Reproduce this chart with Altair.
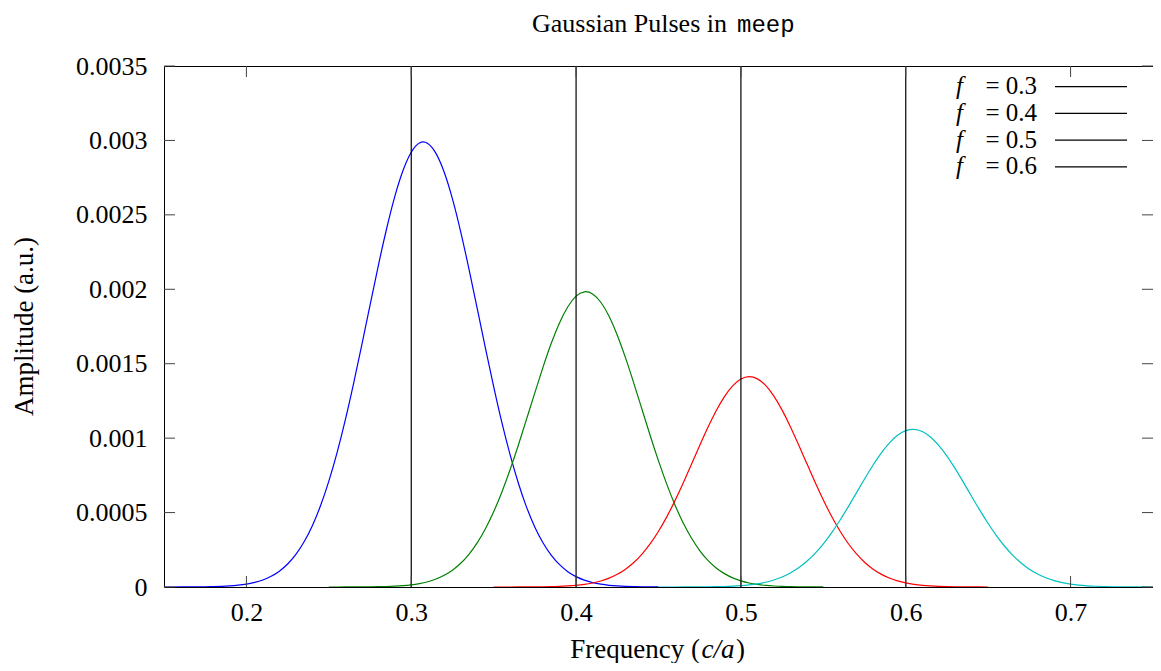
import altair as alt
import pandas as pd

# ---------------- data ----------------
FREQ = [0.150, 0.155, 0.160, 0.165, 0.170, 0.175, 0.180, 0.185, 0.190, 0.195,
        0.200, 0.205, 0.210, 0.215, 0.220, 0.225, 0.230, 0.235, 0.240, 0.245,
        0.250, 0.255, 0.260, 0.265, 0.270, 0.275, 0.280, 0.285, 0.290, 0.295,
        0.300, 0.305, 0.310, 0.315, 0.320, 0.325, 0.330, 0.335, 0.340, 0.345,
        0.350, 0.355, 0.360, 0.365, 0.370, 0.375, 0.380, 0.385, 0.390, 0.395,
        0.400, 0.405, 0.410, 0.415, 0.420, 0.425, 0.430, 0.435, 0.440, 0.445,
        0.450, 0.455, 0.460, 0.465, 0.470, 0.475, 0.480, 0.485, 0.490, 0.495,
        0.500, 0.505, 0.510, 0.515, 0.520, 0.525, 0.530, 0.535, 0.540, 0.545,
        0.550, 0.555, 0.560, 0.565, 0.570, 0.575, 0.580, 0.585, 0.590, 0.595,
        0.600, 0.605, 0.610, 0.615, 0.620, 0.625, 0.630, 0.635, 0.640, 0.645,
        0.650, 0.655, 0.660, 0.665, 0.670, 0.675, 0.680, 0.685, 0.690, 0.695,
        0.700, 0.705, 0.710, 0.715, 0.720, 0.725, 0.730, 0.735, 0.740, 0.745,
        0.750]

AMP_03 = [6e-8, 1.2e-7, 2.2e-7, 4.3e-7, 7.8e-7, 1.4e-6, 2.5e-6, 4.3e-6, 7.3e-6, 1.2e-5,
          1.9e-5, 3.07e-5, 4.74e-5, 7.19e-5, 1.065e-4, 1.543e-4, 2.188e-4, 3.035e-4, 4.12e-4, 5.47e-4,
          7.11e-4, 9.03e-4, 1.123e-3, 1.367e-3, 1.627e-3, 1.894e-3, 2.158e-3, 2.405e-3, 2.623e-3, 2.798e-3,
          2.921e-3, 2.983e-3, 2.980e-3, 2.913e-3, 2.786e-3, 2.607e-3, 2.386e-3, 2.137e-3, 1.872e-3, 1.605e-3,
          1.346e-3, 1.104e-3, 8.87e-4, 6.97e-4, 5.35e-4, 4.02e-4, 2.96e-4, 2.13e-4, 1.50e-4, 1.03e-4,
          6.95e-5, 4.59e-5, 2.96e-5, 1.87e-5, 1.15e-5, 6.9e-6, 4.1e-6, 2.4e-6, 1.3e-6, 7e-7,
          4e-7]
AMP_04 = [4.8e-8, 9e-8, 1.8e-7, 3.4e-7, 6.1e-7, 1.1e-6, 1.9e-6, 3.3e-6, 5.6e-6, 9.1e-6,
          1.46e-5, 2.30e-5, 3.54e-5, 5.34e-5, 7.86e-5, 1.131e-4, 1.594e-4, 2.199e-4, 2.966e-4, 3.915e-4,
          5.054e-4, 6.385e-4, 7.89e-4, 9.54e-4, 1.129e-3, 1.306e-3, 1.479e-3, 1.639e-3, 1.776e-3, 1.883e-3,
          1.954e-3, 1.983e-3, 1.969e-3, 1.913e-3, 1.819e-3, 1.691e-3, 1.539e-3, 1.370e-3, 1.193e-3, 1.016e-3,
          8.47e-4, 6.91e-4, 5.51e-4, 4.30e-4, 3.29e-4, 2.45e-4, 1.79e-4, 1.28e-4, 8.98e-5, 6.14e-5,
          4.12e-5, 2.70e-5, 1.73e-5, 1.08e-5, 6.6e-6, 4.0e-6, 2.3e-6, 1.3e-6, 7.6e-7, 4.2e-7,
          2.2e-7]
AMP_05 = [3.8e-8, 7.4e-8, 1.4e-7, 2.6e-7, 4.8e-7, 8.6e-7, 1.5e-6, 2.6e-6, 4.3e-6, 7.0e-6,
          1.12e-5, 1.76e-5, 2.70e-5, 4.05e-5, 5.94e-5, 8.52e-5, 1.198e-4, 1.645e-4, 2.211e-4, 2.908e-4,
          3.742e-4, 4.711e-4, 5.802e-4, 6.990e-4, 8.241e-4, 9.505e-4, 1.0725e-3, 1.184e-3, 1.279e-3, 1.351e-3,
          1.397e-3, 1.413e-3, 1.398e-3, 1.354e-3, 1.282e-3, 1.188e-3, 1.077e-3, 9.55e-4, 8.29e-4, 7.04e-4,
          5.85e-4, 4.75e-4, 3.78e-4, 2.94e-4, 2.237e-4, 1.666e-4, 1.214e-4, 8.65e-5, 6.03e-5, 4.11e-5,
          2.74e-5, 1.79e-5, 1.14e-5, 7.2e-6, 4.4e-6, 2.6e-6, 1.5e-6, 8.8e-7, 4.9e-7, 2.7e-7,
          1.4e-7]
AMP_06 = [3.1e-8, 6.0e-8, 1.2e-7, 2.1e-7, 3.9e-7, 7.0e-7, 1.2e-6, 2.1e-6, 3.4e-6, 5.6e-6,
          9.0e-6, 1.40e-5, 2.14e-5, 3.20e-5, 4.69e-5, 6.71e-5, 9.39e-5, 1.287e-4, 1.725e-4, 2.261e-4,
          2.901e-4, 3.640e-4, 4.469e-4, 5.369e-4, 6.31e-4, 7.254e-4, 8.162e-4, 8.981e-4, 9.671e-4, 1.0189e-3,
          1.0501e-3, 1.0588e-3, 1.0446e-3, 1.0082e-3, 9.52e-4, 8.795e-4, 7.95e-4, 7.03e-4, 6.082e-4, 5.148e-4,
          4.263e-4, 3.453e-4, 2.738e-4, 2.123e-4, 1.611e-4, 1.196e-4, 8.68e-5, 6.17e-5, 4.29e-5, 2.92e-5,
          1.94e-5, 1.26e-5, 8.0e-6, 5.0e-6, 3.1e-6, 1.8e-6, 1.06e-6, 6.1e-7, 3.4e-7, 1.9e-7,
          9.8e-8]

SERIES = ["0.3", "0.4", "0.5", "0.6"]
SERIES_AMPS = [AMP_03, AMP_04, AMP_05, AMP_06]
SERIES_START = [0, 20, 40, 60]          # index into FREQ where each pulse begins
COLORS = ["#0000ff", "#008000", "#ff0000", "#00c0c0"]
CENTER_LINES = [0.3, 0.4, 0.5, 0.6]
LEGEND_LABELS = ["= 0.3", "= 0.4", "= 0.5", "= 0.6"]
XTICKS = [0.2, 0.3, 0.4, 0.5, 0.6, 0.7]
YTICKS = [0.0, 0.0005, 0.001, 0.0015, 0.002, 0.0025, 0.003, 0.0035]

# ---------------- layout ----------------
W, H = 989, 521
PAD_L, PAD_T = 156, 58
OX = 8 + PAD_L          # page x of plot origin
OY = 8 + PAD_T          # page y of plot origin
TICK = 11
SERIF = "Liberation Serif"
MONO = "Liberation Mono"
NUM_SIZE = 26
TXT_SIZE = 27
LEG_SIZE = 25

rows = []
for name, amps, s in zip(SERIES, SERIES_AMPS, SERIES_START):
    for k, a in enumerate(amps):
        rows.append({"freq": FREQ[s + k], "amp": a, "series": name})
df = pd.DataFrame(rows)

xscale = alt.Scale(domain=[0.15, 0.75], nice=False, zero=False)
yscale = alt.Scale(domain=[0, 0.0035], nice=False, zero=False)
XAX = alt.Axis(values=XTICKS, format=".1f", ticks=False, domain=False, grid=False,
               labelPadding=33, labelBaseline="alphabetic", labelFlush=False,
               labelOverlap=False, title="")
YAX = alt.Axis(values=YTICKS, format=".4~f", ticks=False, domain=False, grid=False,
               labelPadding=17, labelFlush=False, labelOverlap=False, title="")

curves = alt.Chart(df).mark_line(strokeWidth=1.2, interpolate="natural", clip=True).encode(
    x=alt.X("freq:Q", scale=xscale, axis=XAX, title=""),
    y=alt.Y("amp:Q", scale=yscale, axis=YAX, title=""),
    color=alt.Color("series:N", scale=alt.Scale(domain=SERIES, range=COLORS), legend=None),
    detail="series:N",
)

vlines = alt.Chart(pd.DataFrame({"freq": CENTER_LINES})).mark_rule(color="black", strokeWidth=1.2).encode(
    x=alt.X("freq:Q", scale=xscale, axis=XAX, title="")
)

xt = pd.DataFrame({"freq": XTICKS})
yt = pd.DataFrame({"amp": YTICKS})
tick_col = "#444444"
xticks_bottom = alt.Chart(xt).mark_rule(color=tick_col, strokeWidth=1).encode(
    x=alt.X("freq:Q", scale=xscale, axis=XAX, title=""), y=alt.value(H - TICK), y2=alt.value(H))
xticks_top = alt.Chart(xt).mark_rule(color=tick_col, strokeWidth=1).encode(
    x=alt.X("freq:Q", scale=xscale, axis=XAX, title=""), y=alt.value(0), y2=alt.value(TICK))
yticks_left = alt.Chart(yt).mark_rule(color=tick_col, strokeWidth=1).encode(
    y=alt.Y("amp:Q", scale=yscale, axis=YAX, title=""), x=alt.value(0), x2=alt.value(TICK))
yticks_right = alt.Chart(yt).mark_rule(color=tick_col, strokeWidth=1).encode(
    y=alt.Y("amp:Q", scale=yscale, axis=YAX, title=""), x=alt.value(W - TICK), x2=alt.value(W))


def label(text, px, py, align="left", font=SERIF, size=TXT_SIZE, style="normal", angle=0):
    """px, py: page position of the text anchor (converted to plot coordinates)."""
    kw = dict(align=align, baseline="alphabetic", font=font, fontSize=size,
              fontStyle=style, color="black")
    if angle:
        kw["angle"] = angle
    return alt.Chart(pd.DataFrame({"t": [text]})).mark_text(**kw).encode(
        text="t:N", x=alt.value(px - OX), y=alt.value(py - OY))


texts = [
    label("Gaussian Pulses in", 727, 31.5, align="right", size=26),
    label("meep", 737, 31.5, align="left", font=MONO, size=24),
    label("Frequency (", 700, 658, align="right"),
    label("c/a", 718, 658, align="center", style="italic"),
    label(")", 736, 658, align="left"),
    label("Amplitude (a.u.)", 33, OY + H / 2, align="center", angle=270),
]

legend_layers = []
for i, lab in enumerate(LEGEND_LABELS):
    yline = 86.7 + i * 26.7
    legend_layers.append(label("f", 963, yline + 7.5, align="right", style="italic", size=LEG_SIZE))
    legend_layers.append(label(lab, 1037, yline + 7.5, align="right", size=LEG_SIZE))
    legend_layers.append(
        alt.Chart(pd.DataFrame({"t": [lab]})).mark_rule(color="black", strokeWidth=1.2).encode(
            x=alt.value(1055 - OX), x2=alt.value(1127 - OX), y=alt.value(yline - OY)))

chart = alt.layer(
    curves, vlines, xticks_bottom, xticks_top, yticks_left, yticks_right,
    *texts, *legend_layers
).properties(
    width=W, height=H,
    padding={"left": PAD_L, "top": PAD_T, "right": 0, "bottom": 76},
    autosize=alt.AutoSizeParams(type="none"),
).configure_view(
    stroke="black", strokeWidth=1
).configure_axis(
    labelFont=SERIF, labelFontSize=NUM_SIZE, labelColor="black"
)

chart.save("out.html", embed_options={"renderer": "svg", "actions": False})
